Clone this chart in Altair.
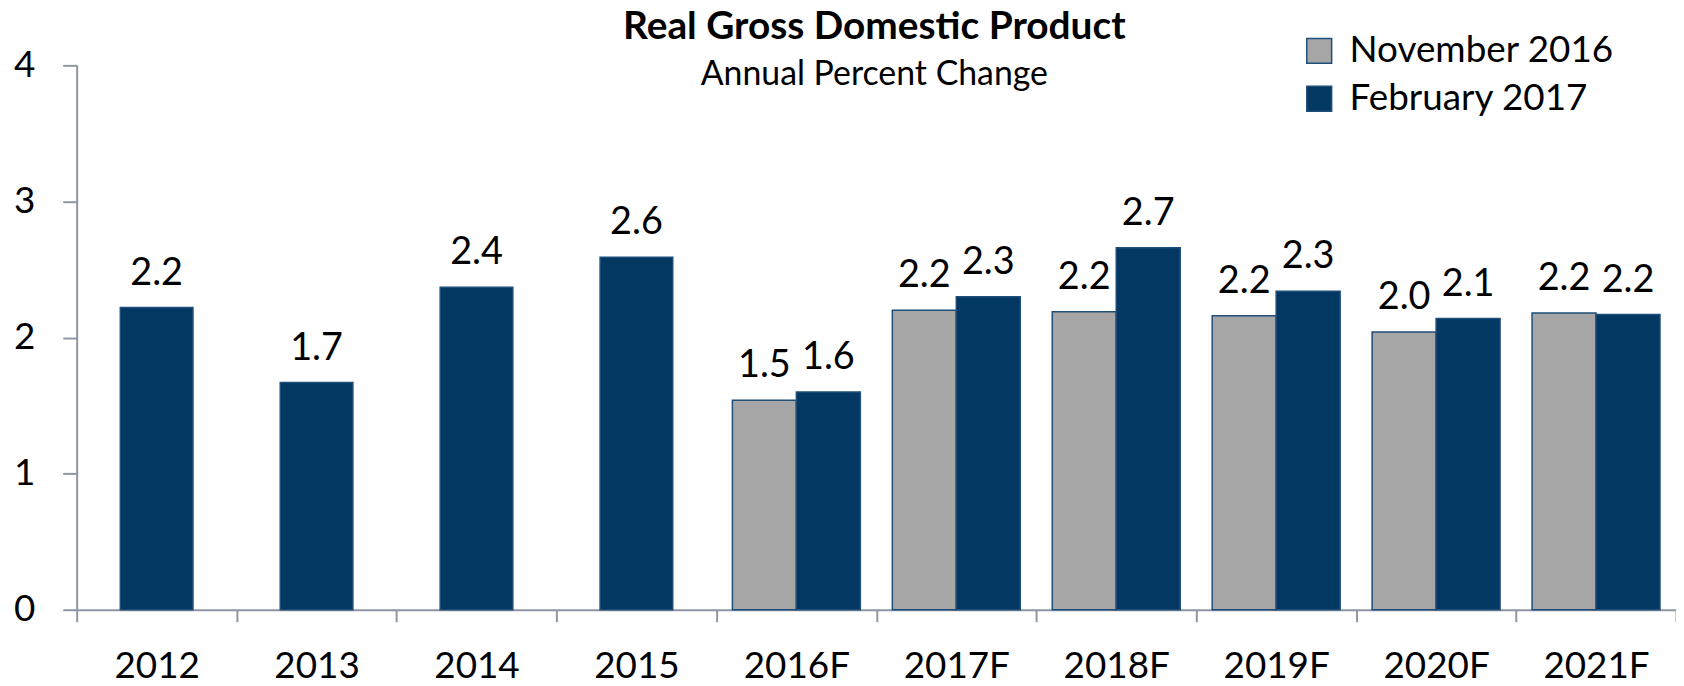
import altair as alt
import pandas as pd

categories = ["2012", "2013", "2014", "2015", "2016F", "2017F", "2018F", "2019F", "2020F", "2021F"]
series_names = ["November 2016", "February 2017"]
nov_2016 = [None, None, None, None, 1.54, 2.20, 2.19, 2.16, 2.04, 2.18]
feb_2017 = [2.22, 1.67, 2.37, 2.59, 1.60, 2.30, 2.66, 2.34, 2.14, 2.17]

rows = []
for i, c in enumerate(categories):
    single = nov_2016[i] is None
    if not single:
        rows.append({"category": c, "series": series_names[0], "value": nov_2016[i], "kind": "pair"})
    rows.append({"category": c, "series": series_names[1], "value": feb_2017[i],
                 "kind": "single" if single else "pair"})
df = pd.DataFrame(rows)

FONT = "Lato"
BLUE = "#033863"
GRAY = "#A6A6A6"
EDGE = "#1F4E79"
AXIS = "#8E96A4"

x_enc = alt.X("category:N", sort=categories,
              scale=alt.Scale(paddingInner=0, paddingOuter=0),
              axis=alt.Axis(title=None, labelAngle=0, tickBand="extent", tickSize=12,
                            labelPadding=56, labelBaseline="alphabetic",
                            labelFont=FONT, labelFontSize=37, labelColor="black",
                            domainColor=AXIS, tickColor=AXIS, domainWidth=2, tickWidth=2))
y_enc = alt.Y("value:Q", scale=alt.Scale(domain=[0, 4], nice=False),
              axis=alt.Axis(title=None, values=[0, 1, 2, 3, 4], tickSize=14, labelPadding=28,
                            grid=False, labelFont=FONT, labelFontSize=37, labelColor="black",
                            domainColor=AXIS, tickColor=AXIS, domainWidth=2, tickWidth=2))
color_enc = alt.Color("series:N",
                      scale=alt.Scale(domain=series_names, range=[GRAY, BLUE]),
                      legend=alt.Legend(title=None, orient="none", legendX=1230, legendY=-33,
                                        symbolType="square", symbolSize=625,
                                        symbolStrokeColor=EDGE, symbolStrokeWidth=1.5,
                                        labelFont=FONT, labelFontSize=37, labelColor="black",
                                        labelOffset=12, rowPadding=10, labelLimit=0))
xoff = alt.XOffset("series:N", sort=series_names,
                   scale=alt.Scale(domain=series_names, paddingOuter=0.25, paddingInner=0))

base = alt.Chart(df)
single_bars = base.transform_filter(alt.datum.kind == "single").mark_bar(
    size=73, stroke=EDGE, strokeWidth=1.5).encode(x=x_enc, y=y_enc, color=color_enc)
pair_bars = base.transform_filter(alt.datum.kind == "pair").mark_bar(
    stroke=EDGE, strokeWidth=1.5).encode(x=x_enc, xOffset=xoff, y=y_enc, color=color_enc)
single_text = base.transform_filter(alt.datum.kind == "single").mark_text(
    dy=-23, baseline="alphabetic", font=FONT, fontSize=38, color="black").encode(
    x=x_enc, y=y_enc, text=alt.Text("value:Q", format=".1f"))
pair_text = base.transform_filter(alt.datum.kind == "pair").mark_text(
    dy=-23, baseline="alphabetic", font=FONT, fontSize=38, color="black").encode(
    x=x_enc, xOffset=xoff, y=y_enc, text=alt.Text("value:Q", format=".1f"))

chart = alt.layer(single_bars, pair_bars, single_text, pair_text).properties(
    width=1607, height=547,
    padding={"left": 69, "top": 56, "right": 0, "bottom": 75},
    autosize=alt.AutoSizeParams(type="none"),
    title=alt.TitleParams(text="Real Gross Domestic Product", subtitle="Annual Percent Change",
                          font=FONT, fontSize=39, fontWeight="bold", color="black",
                          subtitleFont=FONT, subtitleFontSize=34, subtitleColor="black",
                          subtitlePadding=11, anchor="middle", offset=-60, dx=-2),
).configure_view(stroke=None)

chart.save("out.html", embed_options={"renderer": "svg", "actions": False})
